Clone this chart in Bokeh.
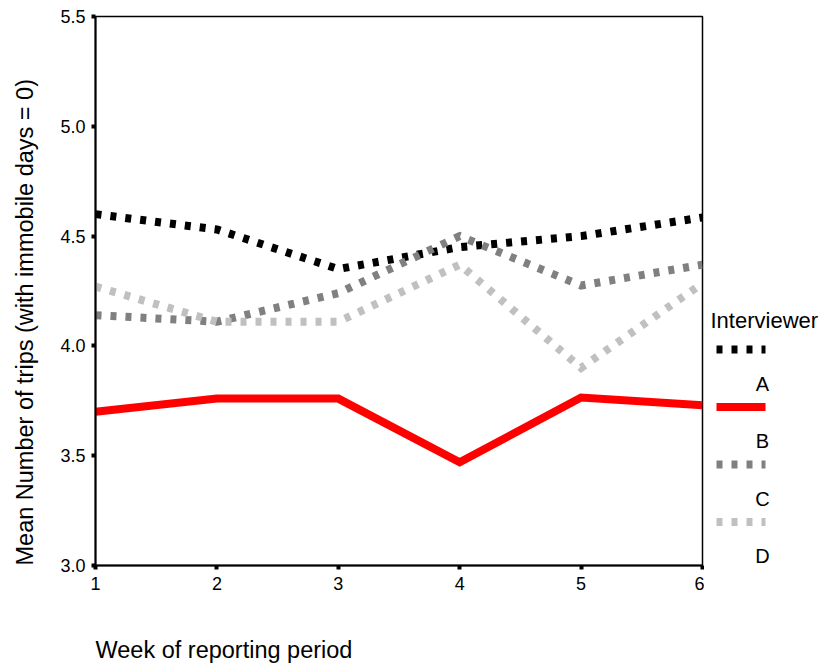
import math
from bokeh.plotting import figure
from bokeh.layouts import row, column
from bokeh.models import FixedTicker, Range1d, CustomJSTickFormatter
from bokeh.core.properties import value
from bokeh.embed import file_html
from bokeh.resources import INLINE

# ---- data ----
weeks = [1, 2, 3, 4, 5, 6]
series_names = ["A", "B", "C", "D"]
interviewer_a = [4.60, 4.53, 4.35, 4.45, 4.50, 4.585]
interviewer_b = [3.70, 3.76, 3.76, 3.47, 3.765, 3.73]
interviewer_c = [4.14, 4.11, 4.24, 4.50, 4.275, 4.37]
interviewer_d = [4.27, 4.11, 4.11, 4.37, 3.90, 4.285]
y_ticks = [3.0, 3.5, 4.0, 4.5, 5.0, 5.5]
x_ticks = [1, 2, 3, 4, 5, 6]
x_title = "Week of reporting period"
y_title = "Mean Number of trips (with immobile days = 0)"
legend_title = "Interviewer"

FONT = "Liberation Sans"
W, H = 821, 663
HM = 620                 # height of the top row (plot + side panels)
TOP, BOTTOM = 16, HM - 565
YLAB_W = 48
LW = 117                 # legend panel width
PW = W - YLAB_W - LW     # main figure width


def blank(fig):
    fig.xgrid.visible = False
    fig.ygrid.visible = False
    fig.outline_line_color = None


# ---- y title panel ----
ylab = figure(width=YLAB_W, height=HM, output_backend="svg", toolbar_location=None,
              x_range=Range1d(0, YLAB_W), y_range=Range1d(565, TOP),
              x_axis_location=None, y_axis_location=None,
              min_border_left=0, min_border_right=0, min_border_top=TOP, min_border_bottom=BOTTOM)
blank(ylab)
ylab.text(x=[24], y=[565], text=[y_title], angle=math.pi / 2, text_font=value(FONT),
          text_font_size="23.5px", text_align="left", text_baseline="middle", text_color="black")

# ---- main plot ----
p = figure(width=PW, height=HM, output_backend="svg", toolbar_location=None,
           x_range=Range1d(1, 6), y_range=Range1d(3.0, 5.5),
           min_border_left=95 - YLAB_W, min_border_right=2,
           min_border_top=TOP, min_border_bottom=BOTTOM)
p.xgrid.visible = False
p.ygrid.visible = False
p.outline_line_color = "black"
p.outline_line_width = 1.5
p.outline_line_alpha = 1

for ax in (p.xaxis[0], p.yaxis[0]):
    ax.axis_line_width = 2
    ax.axis_line_color = "black"
    ax.major_tick_in = 0
    ax.major_tick_out = 4
    ax.major_tick_line_width = 4
    ax.minor_tick_line_color = None
    ax.major_label_text_font = FONT
    ax.major_label_text_font_size = "18px"
    ax.major_label_text_color = "black"

p.yaxis[0].ticker = FixedTicker(ticks=y_ticks)
p.yaxis[0].formatter = CustomJSTickFormatter(code="return tick.toFixed(1);")
p.yaxis[0].major_label_standoff = 6
p.xaxis[0].ticker = FixedTicker(ticks=x_ticks)
p.xaxis[0].major_label_standoff = 7

styles = [
    dict(color="#000000", line_dash="6 9", line_width=8),
    dict(color="#FF0000", line_dash="solid", line_width=8),
    dict(color="#808080", line_dash="6 9", line_width=8),
    dict(color="#C0C0C0", line_dash="6 9", line_width=8),
]
series = [interviewer_a, interviewer_b, interviewer_c, interviewer_d]
for vals, st in zip(series, styles):
    p.line(weeks, vals, line_color=st["color"], line_dash=st["line_dash"],
           line_width=st["line_width"], line_join="miter")

# ---- legend panel ----
lg = figure(width=LW, height=HM, output_backend="svg", toolbar_location=None,
            x_range=Range1d(0, LW), y_range=Range1d(565, TOP),
            x_axis_location=None, y_axis_location=None,
            min_border_left=0, min_border_right=0, min_border_top=TOP, min_border_bottom=BOTTOM)
blank(lg)
title_y = 320
first_sym_y = 349
row_step = 57.5
label_drop = 34
sym_x0, sym_x1 = 12, 61
lab_x = 58
lg.text(x=[6], y=[title_y], text=[legend_title], text_font=value(FONT), text_font_size="22px",
        text_baseline="middle", text_align="left", text_color="black")
for i, (name, st) in enumerate(zip(series_names, styles)):
    sy = first_sym_y + i * row_step
    lg.line([sym_x0, sym_x1], [sy, sy], line_color=st["color"], line_dash=st["line_dash"],
            line_width=st["line_width"])
    lg.text(x=[lab_x], y=[sy + label_drop], text=[name], text_font=value(FONT),
            text_font_size="20px", text_baseline="middle", text_align="center",
            text_color="black")

# ---- x title panel ----
XH = H - HM
xlab = figure(width=W, height=XH, output_backend="svg", toolbar_location=None,
              x_range=Range1d(0, W), y_range=Range1d(XH, 0),
              x_axis_location=None, y_axis_location=None,
              min_border_left=0, min_border_right=0, min_border_top=0, min_border_bottom=0)
blank(xlab)
xlab.text(x=[95], y=[649 - HM], text=[x_title], text_font=value(FONT), text_font_size="23.5px",
          text_baseline="middle", text_align="left", text_color="black")

layout = column(row(ylab, p, lg), xlab)
open("out.html", "w").write(file_html(layout, INLINE))
